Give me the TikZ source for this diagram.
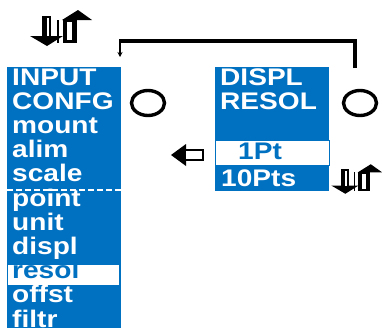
\documentclass[tikz,border=0pt]{standalone}
\usepackage{fontspec}
\newfontfamily\menufont{Liberation Sans}[FakeStretch=1.17]
\usepackage{tikz}
\usetikzlibrary{arrows.meta,positioning,shapes.geometric}
\definecolor{menublue}{RGB}{0,112,192}
\tikzset{
  updown/.pic={
    \fill (-30,8) -- (3,8) -- (-13,18) -- cycle;
    \fill (-18,-12) rectangle (-9,8);
    \fill[white] (-13,-10) rectangle (-11,8);
    \fill (-3,-8) rectangle (-1,15);
    \fill (3,-8) rectangle (17,15);
    \fill[white] (7,-6) rectangle (12,12);
    \fill (2,-8) -- (32,-8) -- (18,-18) -- cycle;
  }
}
\begin{document}
\begin{tikzpicture}[
    x=1pt, y=-1pt,
    panel/.style={fill=menublue, inner sep=0pt, anchor=north west},
    pick/.style={draw=menublue, line width=1.2pt, fill=white, inner sep=0pt, anchor=north west},
    item/.style={anchor=base west, inner sep=0pt, text=white, font=\menufont\bfseries\fontsize{24}{26}\selectfont},
    picked/.style={item, text=menublue},
    ring/.style={draw, ellipse, line width=3.4pt, minimum width=33pt, minimum height=25pt, inner sep=0pt},
    arrow/.style={-{Stealth[length=5pt, width=5pt]}, line width=1.4pt}
]
\useasboundingbox (0,0) rectangle (382,327);

\node[panel, minimum width=114pt, minimum height=262pt] (inputmenu) at (7,67) {};
\node[panel, minimum width=114pt, minimum height=124pt] (resolmenu) at (215,67) {};
\draw[white, line width=1.4pt, dash pattern=on 6pt off 3pt] (inputmenu.west |- 0,190) coordinate (sepL) -- (inputmenu.east |- 0,190) coordinate (sepR);
\node[pick, minimum width=112pt, minimum height=21pt] (resolbar) at (7,264) {};
\node[pick, minimum width=114pt, minimum height=25pt] (ptbar) at (215,140) {};

\node[item] (input) at (12,85) {INPUT};
\node[item] (confg) at ([yshift=-24.2pt]input.base west) {CONFG};
\node[item] (mount) at ([yshift=-24.2pt]confg.base west) {mount};
\node[item] (alim) at ([yshift=-24.2pt]mount.base west) {alim};
\node[item] (scale) at ([yshift=-24.2pt]alim.base west) {scale};
\node[item] (point) at ([yshift=-24.2pt]scale.base west) {point};
\node[item] (unit) at ([yshift=-24.2pt]point.base west) {unit};
\node[item] (displ) at ([yshift=-24.2pt]unit.base west) {displ};
\node[picked] (resol) at ([yshift=-24.2pt]displ.base west) {resol};
\node[item] (offst) at ([yshift=-24.2pt]resol.base west) {offst};
\node[item] (filtr) at ([yshift=-24.2pt]offst.base west) {filtr};

\node[item] (dispTitle) at (220,85) {DISPL};
\node[item] (resTitle) at ([yshift=-24.2pt]dispTitle.base west) {RESOL};
\node[picked] (onePt) at (238,159) {1Pt};
\node[item] (tenPts) at (221,186) {10Pts};

\node[ring] (leftring) at (148,103) {};
\node[ring] (rightring) at (360,103) {};

\coordinate (loopstart) at (355,68);
\coordinate (loopcorner) at (120,41);
\coordinate (loopend) at (120,57);
\draw[line width=3.4pt] (loopstart) -- (loopstart |- loopcorner) -- ([xshift=-0.7pt]loopcorner);
\draw[arrow] (loopcorner) -- (loopend);

\pic at (60,28) {updown};
\pic[scale=0.82] at (356,179) {updown};

\fill (171,155) -- (186,144) -- (186,166) -- cycle;
\draw[line width=2.4pt, fill=white] (185,150) rectangle (203,160);
\end{tikzpicture}
\end{document}
